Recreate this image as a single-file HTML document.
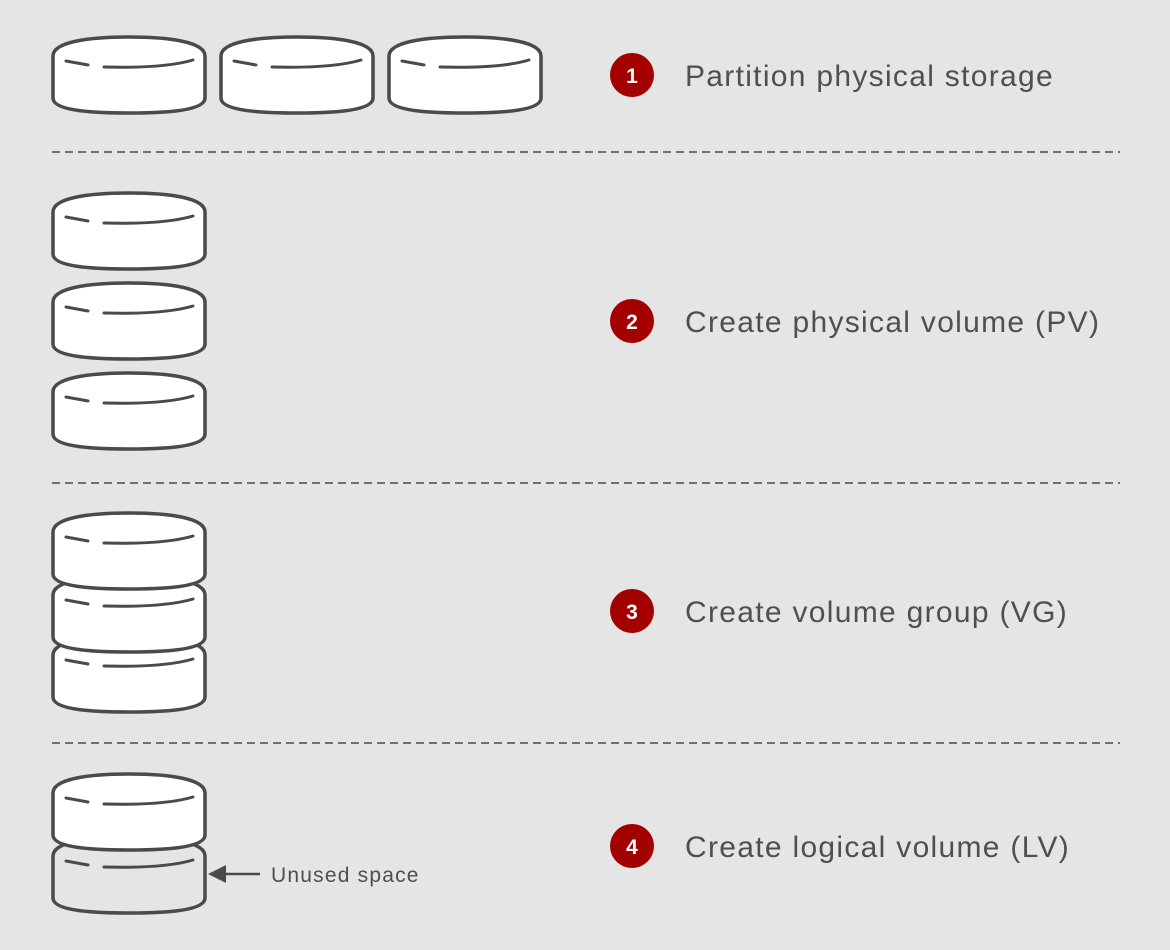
<!DOCTYPE html>
<html><head><meta charset="utf-8"><style>
html,body{margin:0;padding:0;background:#e5e5e5;}
svg{display:block;}
text{font-family:"Liberation Sans",sans-serif;fill:#4f4f4f;}
</style></head><body>
<svg width="1170" height="950" viewBox="0 0 1170 950" xmlns="http://www.w3.org/2000/svg">
<defs>
<g id="disk">
<path d="M0,20 C0,6 35,1 76,1 C117,1 152,6 152,20 L152,62 C152,74 117,77 76,77 C35,77 0,74 0,62 Z" stroke="#4a4a4a" stroke-width="3.5" stroke-linejoin="round"/>
<path d="M13,25 L35,29" stroke="#4a4a4a" stroke-width="3" stroke-linecap="round" fill="none"/>
<path d="M51,31 C90,32 120,30 140,24" stroke="#4a4a4a" stroke-width="3" stroke-linecap="round" fill="none"/>
</g>
</defs>
<rect width="1170" height="950" fill="#e5e5e5"/>
<g fill="#ffffff">
<use href="#disk" x="53" y="36"/>
<use href="#disk" x="221" y="36"/>
<use href="#disk" x="389" y="36"/>
<use href="#disk" x="53" y="192"/>
<use href="#disk" x="53" y="282"/>
<use href="#disk" x="53" y="372"/>
<use href="#disk" x="53" y="635"/>
<use href="#disk" x="53" y="575"/>
<use href="#disk" x="53" y="512"/>
</g>
<use href="#disk" x="53" y="836" fill="#e5e5e5"/>
<use href="#disk" x="53" y="773" fill="#ffffff"/>
<g stroke="#4a4a4a" stroke-width="1.6" stroke-dasharray="8,5">
<line x1="52" y1="152" x2="1120" y2="152"/>
<line x1="52" y1="483" x2="1120" y2="483"/>
<line x1="52" y1="743" x2="1120" y2="743"/>
</g>
<line x1="222" y1="874" x2="260" y2="874" stroke="#4a4a4a" stroke-width="2.5"/>
<polygon points="208,874 226,865 226,883" fill="#4a4a4a"/>
<text x="271" y="882" font-size="21" letter-spacing="1.2">Unused space</text>
<g fill="#a30000">
<circle cx="632" cy="75" r="22"/>
<circle cx="632" cy="321" r="22"/>
<circle cx="632" cy="611" r="22"/>
<circle cx="632" cy="846" r="22"/>
</g>
<g font-size="21" font-weight="bold" text-anchor="middle">
<text x="632" y="83" style="fill:#fff">1</text>
<text x="632" y="329" style="fill:#fff">2</text>
<text x="632" y="619" style="fill:#fff">3</text>
<text x="632" y="854" style="fill:#fff">4</text>
</g>
<g font-size="30" letter-spacing="1.3">
<text x="685" y="86">Partition physical storage</text>
<text x="685" y="332">Create physical volume (PV)</text>
<text x="685" y="622">Create volume group (VG)</text>
<text x="685" y="857">Create logical volume (LV)</text>
</g>
</svg>
</body></html>
